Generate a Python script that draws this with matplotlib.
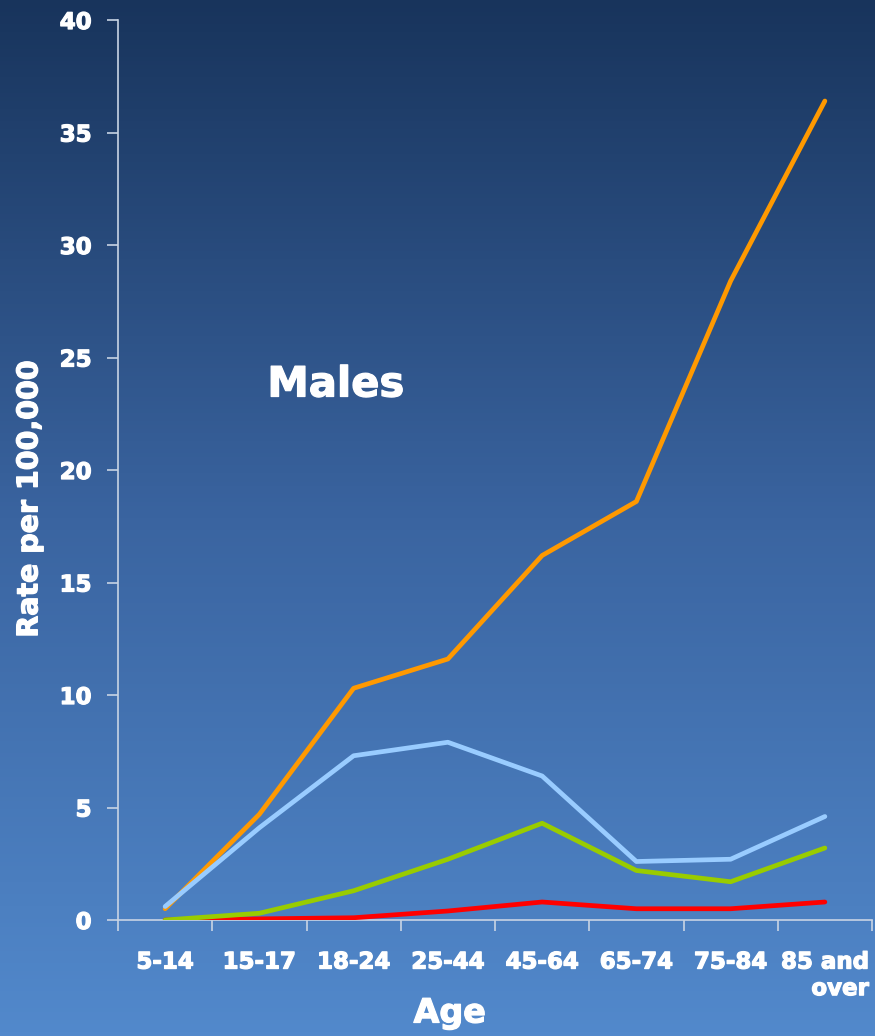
import matplotlib
matplotlib.use("Agg")
import matplotlib.pyplot as plt
import matplotlib.patheffects as pe
import numpy as np
from matplotlib.colors import LinearSegmentedColormap

# data
age_groups = ["5-14", "15-17", "18-24", "25-44", "45-64", "65-74", "75-84", "85 and\nover"]
orange_vals = [0.5, 4.7, 10.3, 11.6, 16.2, 18.6, 28.4, 36.4]
lightblue_vals = [0.6, 4.1, 7.3, 7.9, 6.4, 2.6, 2.7, 4.6]
green_vals = [0.0, 0.3, 1.3, 2.7, 4.3, 2.2, 1.7, 3.2]
red_vals = [0.0, 0.05, 0.1, 0.4, 0.8, 0.5, 0.5, 0.8]
y_ticks = [0, 5, 10, 15, 20, 25, 30, 35, 40]

W, H = 875, 1036
fig = plt.figure(figsize=(W / 100, H / 100), dpi=100)

# gradient background
bg = fig.add_axes([0, 0, 1, 1], zorder=-10)
bg_cmap = LinearSegmentedColormap.from_list("bg", ["#18345c", "#3a64a0", "#5289cc"])
grad = np.linspace(0, 1, 256).reshape(-1, 1)
bg.imshow(grad, aspect="auto", cmap=bg_cmap, extent=[0, 1, 1, 0])
bg.axis("off")

ax = fig.add_axes([118 / W, 1 - 920 / H, (872 - 118) / W, (920 - 20) / H])
ax.patch.set_alpha(0)

x = np.arange(len(age_groups))
lw = 3.4
ax.plot(x, red_vals, color="#ff0000", lw=lw, solid_capstyle="round", zorder=3)
ax.plot(x, green_vals, color="#99cc00", lw=lw, solid_capstyle="round", zorder=4)
ax.plot(x, orange_vals, color="#ff9900", lw=lw, solid_capstyle="round", zorder=5)
ax.plot(x, lightblue_vals, color="#99ccff", lw=lw, solid_capstyle="round", zorder=6)

ax.set_xlim(-0.5, len(age_groups) - 0.5)
ax.set_ylim(0, 40)

for s in ["top", "right"]:
    ax.spines[s].set_visible(False)
for s in ["left", "bottom"]:
    ax.spines[s].set_color("#c8d4e4")
    ax.spines[s].set_linewidth(1.2)

# slight stroke to make the bold text look heavier
heavy = [pe.withStroke(linewidth=0.9, foreground="white")]

ax.set_yticks(y_ticks)
ax.set_yticklabels([str(v) for v in y_ticks], fontsize=16.5, fontweight="bold", color="white")
ax.tick_params(axis="y", direction="out", length=8, color="#c8d4e4", width=1.2, pad=11)

# x ticks at category boundaries, labels at centers
ax.set_xticks(np.arange(-0.5, len(age_groups)), minor=False)
ax.set_xticklabels([])
ax.set_xticks(x, minor=True)
ax.set_xticklabels(age_groups, minor=True, fontsize=16.5, fontweight="bold", color="white",
                   multialignment="right")
ax.tick_params(axis="x", which="major", direction="out", length=8, color="#c8d4e4", width=1.2)
ax.tick_params(axis="x", which="minor", length=0, pad=22)

for t in ax.get_yticklabels() + ax.get_xticklabels(minor=True):
    t.set_path_effects(heavy)

ax.set_ylabel("Rate per 100,000", fontsize=20.5, fontweight="bold", color="white",
              path_effects=heavy)
ax.yaxis.set_label_coords(-0.099, 0.468)
ax.set_xlabel("Age", fontsize=24, fontweight="bold", color="white", path_effects=heavy)
ax.xaxis.set_label_coords(0.44, -0.085)

ax.text(1.81, 23.8, "Males", fontsize=30, fontweight="bold", color="white",
        ha="center", va="center", path_effects=heavy)

fig.savefig("out.png", dpi=100)
